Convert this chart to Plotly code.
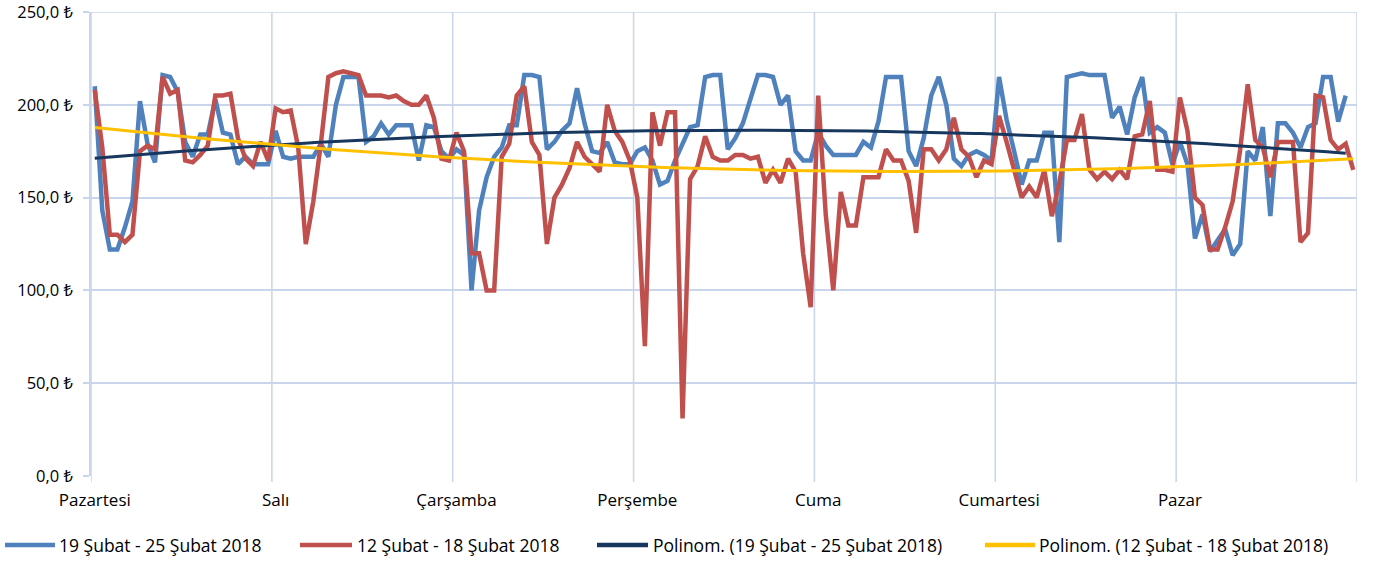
import numpy as np
import plotly.graph_objects as go

days = ["Pazartesi", "Salı", "Çarşamba", "Perşembe", "Cuma", "Cumartesi", "Pazar"]
hours_per_day = 24

name_blue = "19 Şubat - 25 Şubat 2018"
name_red = "12 Şubat - 18 Şubat 2018"
name_blue_trend = "Polinom. (19 Şubat - 25 Şubat 2018)"
name_red_trend = "Polinom. (12 Şubat - 18 Şubat 2018)"

y_ticks = [0, 50, 100, 150, 200, 250]
y_tick_labels = ["0,0 ₺", "50,0 ₺", "100,0 ₺", "150,0 ₺", "200,0 ₺", "250,0 ₺"]

blue_values = [
    210, 143, 122, 122, 134, 148, 202, 179, 169, 216, 215, 207, 180, 172, 184, 184, 203, 185, 184, 168, 172, 168, 168, 168,
    186, 172, 171, 172, 172, 172, 179, 172, 200, 215, 215, 215, 180, 183, 190, 184, 189, 189, 189, 170, 189, 188, 175, 171,
    176, 173, 100, 143, 161, 172, 177, 189, 189, 216, 216, 215, 176, 180, 186, 190, 209, 190, 175, 174, 180, 169, 168, 168,
    175, 177, 170, 157, 159, 170, 179, 188, 189, 215, 216, 216, 176, 182, 190, 204, 216, 216, 215, 200, 205, 175, 170, 170,
    185, 178, 173, 173, 173, 173, 180, 177, 191, 215, 215, 215, 175, 167, 182, 205, 215, 200, 171, 167, 173, 175, 173, 170,
    215, 192, 175, 157, 170, 170, 185, 185, 126, 215, 216, 217, 216, 216, 216, 193, 199, 184, 204, 215, 185, 188, 185, 168,
    180, 168, 128, 141, 121, 127, 133, 119, 125, 175, 170, 188, 140, 190, 190, 185, 177, 188, 190, 215, 215, 191, 205,
]

red_values = [
    208, 177, 130, 130, 126, 130, 175, 178, 176, 215, 206, 208, 170, 169, 173, 178, 205, 205, 206, 182, 171, 167, 180, 170,
    198, 196, 197, 177, 125, 148, 179, 215, 217, 218, 217, 216, 205, 205, 205, 204, 205, 202, 200, 200, 205, 193, 171, 170,
    185, 175, 120, 120, 100, 100, 172, 179, 205, 210, 180, 173, 125, 150, 157, 166, 180, 172, 168, 164, 200, 186, 180, 170,
    150, 70, 196, 178, 196, 196, 31, 160, 167, 183, 172, 170, 170, 173, 173, 171, 172, 158, 165, 158, 171, 164, 120, 91,
    205, 141, 100, 153, 135, 135, 161, 161, 161, 176, 170, 170, 159, 131, 176, 176, 170, 176, 193, 176, 172, 161, 170, 168,
    194, 180, 164, 150, 156, 150, 165, 140, 158, 181, 181, 195, 165, 160, 164, 160, 165, 160, 183, 184, 202, 165, 165, 164,
    204, 186, 150, 146, 122, 122, 134, 148, 176, 211, 181, 177, 161, 180, 180, 180, 126, 131, 205, 204, 181, 176, 179, 165,
]

# category positions: each hour sits in the middle of its category slot
x_blue = np.arange(len(blue_values)) + 0.5
x_red = np.arange(len(red_values)) + 0.5

# polynomial (order 2) trendlines, as in the original spreadsheet chart
cb = np.polyfit(x_blue, blue_values, 2)
cr = np.polyfit(x_red, red_values, 2)
xb_fit = np.linspace(x_blue[0], x_blue[-1], 200)
xr_fit = np.linspace(x_red[0], x_red[-1], 200)

c_blue, c_red, c_navy, c_yellow = "#4F81BD", "#C0504D", "#17375E", "#FFC000"

fig = go.Figure()
fig.add_trace(go.Scatter(x=x_blue, y=blue_values, mode="lines", name=name_blue,
                         line=dict(color=c_blue, width=4.5), showlegend=False))
fig.add_trace(go.Scatter(x=x_red, y=red_values, mode="lines", name=name_red,
                         line=dict(color=c_red, width=4.5), showlegend=False))
fig.add_trace(go.Scatter(x=xb_fit, y=np.polyval(cb, xb_fit), mode="lines", name=name_blue_trend,
                         line=dict(color=c_navy, width=3), showlegend=False))
fig.add_trace(go.Scatter(x=xr_fit, y=np.polyval(cr, xr_fit), mode="lines", name=name_red_trend,
                         line=dict(color=c_yellow, width=3), showlegend=False))

font_family = "Open Sans, Noto Sans, DejaVu Sans, sans-serif"
grid_color = "#C8D5EA"

W, H = 1378, 564
ml, mr, mt, mb = 91, 21, 12, 88
pw, ph = W - ml - mr, H - mt - mb

fig.update_layout(
    width=W, height=H,
    margin=dict(l=ml, r=mr, t=mt, b=mb, autoexpand=False),
    paper_bgcolor="white", plot_bgcolor="white",
    font=dict(family=font_family, size=17, color="#000000"),
    showlegend=False,
    xaxis=dict(range=[0, 7 * hours_per_day], tickmode="array",
               tickvals=[d * hours_per_day + 0.5 for d in range(len(days))],
               ticktext=days, showgrid=False, zeroline=False,
               showline=False, ticks="", ticklabelstandoff=12,
               ticklabeloverflow="allow", tickfont=dict(size=17)),
    yaxis=dict(range=[0, 250], tickmode="array", tickvals=y_ticks, ticktext=y_tick_labels,
               showgrid=True, gridcolor=grid_color, gridwidth=1.5, zeroline=False,
               showline=True, linecolor=grid_color, linewidth=1.5,
               ticks="outside", ticklen=6, tickcolor=grid_color, tickwidth=1.5,
               ticklabelstandoff=7, ticklabeloverflow="allow", tickfont=dict(size=16.5)),
)

# top gridline (at the range edge) drawn explicitly
fig.add_shape(type="line", xref="paper", yref="y", x0=-6 / pw, x1=1, y0=y_ticks[-1], y1=y_ticks[-1],
              line=dict(color=grid_color, width=1.5), layer="below")

# vertical day gridlines (including the right end of the axis), with small outside ticks
for d in range(len(days) + 1):
    fig.add_shape(type="line", xref="x", yref="paper", x0=d * hours_per_day, x1=d * hours_per_day,
                  y0=-6 / ph, y1=1, line=dict(color=grid_color, width=1.5), layer="below")

# legend drawn along the bottom (line sample + text), in page pixels
legend_items = [(name_blue, c_blue, 5, 55, 57), (name_red, c_red, 300, 352, 355),
                (name_blue_trend, c_navy, 597, 648, 651), (name_red_trend, c_yellow, 985, 1035, 1037)]
ly = 545
py_leg = (H - mb - ly) / ph
for text, col, x0, x1, xt in legend_items:
    fig.add_shape(type="line", xref="paper", yref="paper",
                  x0=(x0 - ml) / pw, x1=(x1 - ml) / pw, y0=py_leg, y1=py_leg,
                  line=dict(color=col, width=4.5))
    fig.add_annotation(text=text, xref="paper", yref="paper", x=(xt - ml) / pw, y=py_leg,
                       xanchor="left", yanchor="middle", showarrow=False,
                       font=dict(size=17.5, color="#000000"))

fig.write_html("out.html", config={"displayModeBar": False},
               post_script="document.body.style.margin='0px';")
